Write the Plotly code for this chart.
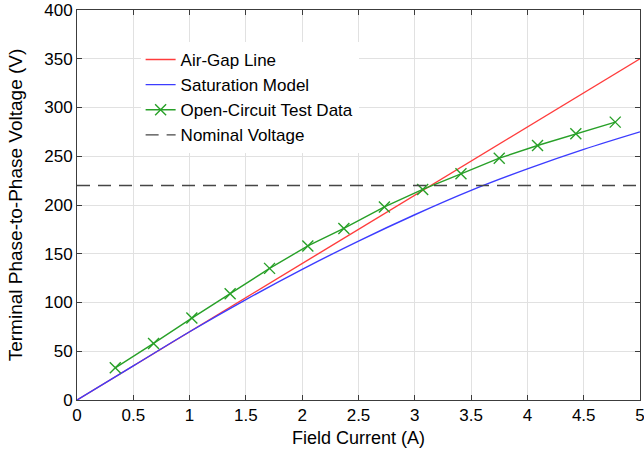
import plotly.graph_objects as go

# Air-gap line
airgap_x = [0, 5]
airgap_y = [0, 350]

# Saturation model
sat_x = [0, 0.5, 1, 1.5, 2, 2.5, 3, 3.5, 4, 4.5, 5]
sat_y = [0, 35, 70, 103, 134, 163, 190, 215, 237, 257, 275]

# Open-circuit test data
oc_x = [0.34, 0.68, 1.02, 1.36, 1.71, 2.05, 2.37, 2.73, 3.07, 3.41, 3.75, 4.09, 4.43, 4.78]
oc_y = [33, 58, 84, 109, 135, 158, 176, 198, 216, 232, 248, 261, 273, 285]

# Nominal voltage
nom_x = [0, 5]
nom_y = [220, 220]

fig = go.Figure()
fig.add_trace(go.Scatter(x=airgap_x, y=airgap_y, mode="lines", name="Air-Gap Line",
                         line=dict(color="rgb(255,60,60)", width=1.4)))
fig.add_trace(go.Scatter(x=sat_x, y=sat_y, mode="lines", name="Saturation Model",
                         line=dict(color="rgb(60,60,255)", width=1.4, shape="spline")))
fig.add_trace(go.Scatter(x=oc_x, y=oc_y, mode="lines+markers", name="Open-Circuit Test Data",
                         line=dict(color="rgb(40,160,40)", width=1.4),
                         marker=dict(symbol="x-thin", size=11, line=dict(color="rgb(40,160,40)", width=1.4))))
fig.add_trace(go.Scatter(x=nom_x, y=nom_y, mode="lines", name="Nominal Voltage",
                         line=dict(color="rgb(70,70,70)", width=1.4, dash="13px,8px")))

axis_common = dict(showline=True, linecolor="rgb(60,60,60)", linewidth=1, mirror="ticks",
                   ticks="inside", ticklen=5, tickcolor="rgb(60,60,60)",
                   showgrid=True, gridcolor="rgb(225,225,225)", gridwidth=1,
                   zeroline=False, automargin=False, ticklabeloverflow="allow",
                   tickfont=dict(size=17, color="black"))

fig.update_layout(
    width=644, height=453,
    margin=dict(l=77, r=4, t=10, b=53),
    paper_bgcolor="white", plot_bgcolor="white",
    font=dict(family="Liberation Sans, Arial, sans-serif", size=17, color="black"),
    xaxis=dict(range=[0, 5], dtick=0.5, title=dict(text="Field Current (A)", font=dict(size=18), standoff=6),
               **axis_common),
    yaxis=dict(range=[0, 400], dtick=50, title=dict(text="Terminal Phase-to-Phase Voltage (V)", font=dict(size=19), standoff=16),
               **axis_common),
    legend=dict(x=0.113, y=0.918, xanchor="left", yanchor="top", bgcolor="white",
                borderwidth=0, font=dict(size=17), tracegroupgap=0, itemwidth=30),
    showlegend=True,
)

fig.write_html("out.html", config={"displayModeBar": False},
               post_script="document.body.style.margin='0';")
